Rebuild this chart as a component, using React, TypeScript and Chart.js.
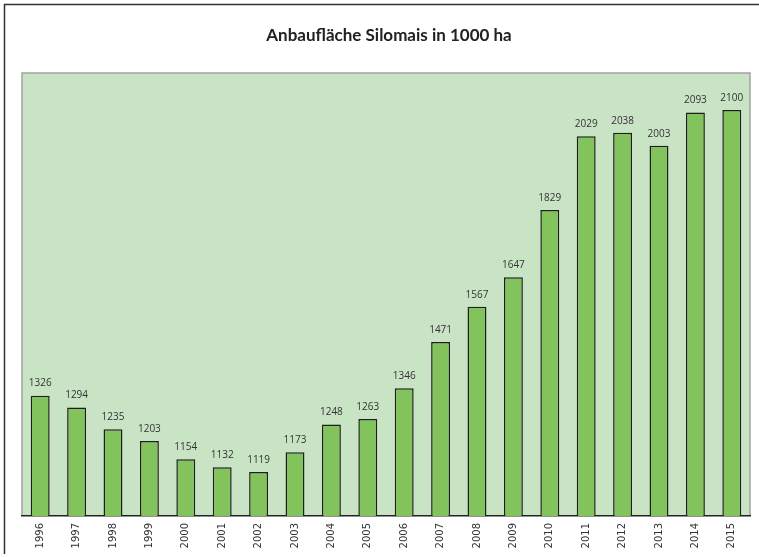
import React, { useEffect, useRef } from "react";
import { Chart, registerables } from "chart.js";

Chart.register(...registerables);

const TITLE = "Anbaufläche Silomais in 1000 ha";
const years = ["1996","1997","1998","1999","2000","2001","2002","2003","2004","2005","2006","2007","2008","2009","2010","2011","2012","2013","2014","2015"];
const areaValues = [1326,1294,1235,1203,1154,1132,1119,1173,1248,1263,1346,1471,1567,1647,1829,2029,2038,2003,2093,2100];
const yMin = 1000;
const yMax = 2200;

const W = 759;
const H = 557;

const framePlugin = {
  id: "frameAndBg",
  beforeDraw(chart: any) {
    const { ctx, chartArea: a } = chart;
    ctx.save();
    ctx.fillStyle = "#ffffff";
    ctx.fillRect(0, 0, chart.width, chart.height);
    ctx.strokeStyle = "#333333";
    ctx.lineWidth = 1.5;
    ctx.beginPath();
    ctx.moveTo(4.5, 554);
    ctx.lineTo(4.5, 4.5);
    ctx.lineTo(chart.width, 4.5);
    ctx.stroke();
    ctx.fillStyle = "#c9e3c5";
    ctx.fillRect(a.left, a.top, a.right - a.left, a.bottom - a.top);
    ctx.strokeStyle = "#a3a3a3";
    ctx.lineWidth = 1.5;
    ctx.beginPath();
    ctx.moveTo(a.left, a.bottom);
    ctx.lineTo(a.left, a.top);
    ctx.lineTo(a.right, a.top);
    ctx.lineTo(a.right, a.bottom);
    ctx.stroke();
    ctx.fillStyle = "#222222";
    ctx.font = "bold 17px Lato, 'Open Sans', sans-serif";
    ctx.textAlign = "center";
    ctx.textBaseline = "middle";
    ctx.fillText(TITLE, 389, 36);
    ctx.restore();
  },
  afterDatasetsDraw(chart: any) {
    const { ctx } = chart;
    const meta = chart.getDatasetMeta(0);
    ctx.save();
    ctx.fillStyle = "#333333";
    ctx.font = "10px 'Open Sans', sans-serif";
    ctx.textAlign = "center";
    ctx.textBaseline = "bottom";
    meta.data.forEach((bar: any, i: number) => {
      ctx.fillText(String(areaValues[i]), bar.x, bar.y - 7);
    });
    ctx.restore();
  },
};

export default function App() {
  const ref = useRef<HTMLCanvasElement | null>(null);
  useEffect(() => {
    document.body.style.margin = "0";
    if (!ref.current) return;
    const chart = new Chart(ref.current, {
      type: "bar",
      data: {
        labels: years,
        datasets: [
          {
            data: areaValues,
            backgroundColor: "#82c45b",
            borderColor: "#1e1e1e",
            borderWidth: 1.5,
            categoryPercentage: 1,
            barPercentage: 0.52,
          },
        ],
      },
      options: {
        animation: false,
        responsive: false,
        devicePixelRatio: 1,
        layout: { padding: { left: 22, right: 9, top: 73, bottom: 0 } },
        plugins: {
          legend: { display: false },
          title: { display: false },
          tooltip: { enabled: false },
        },
        scales: {
          x: {
            grid: { display: false, tickLength: 0 },
            border: { display: true, color: "#222222", width: 1.5 },
            ticks: {
              minRotation: 90,
              maxRotation: 90,
              padding: 7,
              color: "#333333",
              font: { family: "'DejaVu Sans', sans-serif", size: 10 },
            },
            afterFit(axis: any) {
              axis.height = 41;
            },
          },
          y: {
            display: false,
            min: yMin,
            max: yMax,
          },
        },
      },
      plugins: [framePlugin],
    });
    return () => chart.destroy();
  }, []);
  return <canvas ref={ref} width={W} height={H} style={{ display: "block", width: W, height: H }} />;
}
